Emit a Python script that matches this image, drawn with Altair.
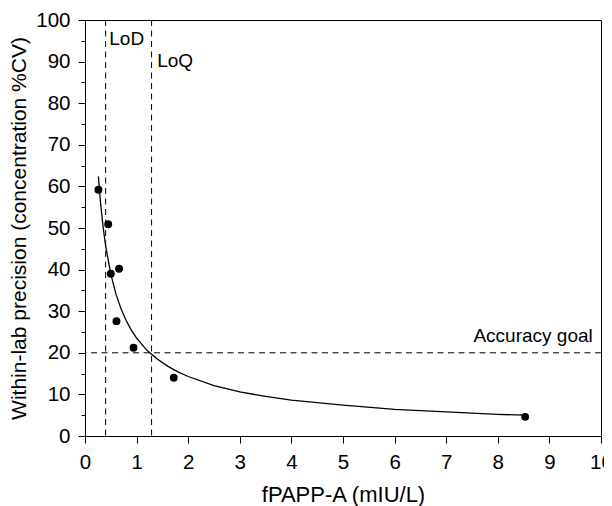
import altair as alt
import pandas as pd

# Measured points
conc = [0.26, 0.45, 0.50, 0.66, 0.61, 0.94, 1.72, 8.53]
cv = [59.2, 50.9, 39.0, 40.2, 27.6, 21.2, 14.0, 4.6]

# Fitted curve
curve_x = [0.26, 0.3, 0.35, 0.4, 0.5, 0.6, 0.7, 0.8, 0.9, 1.0, 1.2, 1.4, 1.6, 1.8,
           2.0, 2.5, 3.0, 3.5, 4.0, 5.0, 6.0, 7.0, 8.0, 8.53]
curve_y = [62.4, 56.2, 50.3, 45.7, 38.9, 34.1, 30.5, 27.7, 25.4, 23.55, 20.6, 18.5,
           16.8, 15.4, 14.3, 12.1, 10.6, 9.5, 8.6, 7.4, 6.4, 5.8, 5.2, 5.0]

lod = 0.40
loq = 1.29
goal = 20

labels = ["LoD", "LoQ", "Accuracy goal"]
label_x = [0.47, 1.40, 9.84]
label_y = [94.0, 88.8, 22.5]
label_align = ["left", "left", "right"]

x_ticks = [i * 0.5 for i in range(21)]
y_ticks = [i * 5 for i in range(21)]

FONT = "Liberation Sans"
LFS = 20.5
XTFS = 22
YTFS = 21
AFS = 19

pts = pd.DataFrame({"x": conc, "y": cv})
crv = pd.DataFrame({"x": curve_x, "y": curve_y})
vlines = pd.DataFrame({"x": [lod, loq]})
hline = pd.DataFrame({"y": [goal]})
lab = pd.DataFrame({"t": labels, "x": label_x, "y": label_y, "a": label_align})

xscale = alt.Scale(domain=[0, 10], nice=False, zero=False)
yscale = alt.Scale(domain=[0, 100], nice=False, zero=False)

common = dict(grid=False, domainColor="black", tickColor="black", labelColor="black",
              titleColor="black", labelFont=FONT, titleFont=FONT, labelFontSize=LFS,
              titleFontWeight="normal", labelFlush=False,
              labelOverlap=False, format="d")

xaxis = alt.Axis(values=x_ticks, title="fPAPP-A (mIU/L)", titleFontSize=XTFS,
                 tickSize={"condition": {"test": "datum.value % 1 === 0", "value": 7},
                           "value": 4},
                 labelExpr="datum.value % 1 === 0 ? datum.label : ''",
                 labelPadding=9, titlePadding=12, **common)
yaxis = alt.Axis(values=y_ticks, title="Within-lab precision (concentration %CV)",
                 titleFontSize=YTFS,
                 tickSize={"condition": {"test": "datum.value % 10 === 0", "value": 7},
                           "value": 4},
                 labelExpr="datum.value % 10 === 0 ? datum.label : ''",
                 labelPadding=8, titlePadding=6, **common)

X = alt.X("x:Q", scale=xscale, axis=xaxis)
Y = alt.Y("y:Q", scale=yscale, axis=yaxis)

points = alt.Chart(pts).mark_circle(size=62, color="black", opacity=1).encode(x=X, y=Y)

line = alt.Chart(crv).mark_line(color="black", strokeWidth=1.3).encode(x=X, y=Y)

vrules = alt.Chart(vlines).mark_rule(color="black", strokeWidth=1,
                                     strokeDash=[6, 4.5]).encode(x=X)
hrule = alt.Chart(hline).mark_rule(color="black", strokeWidth=1,
                                   strokeDash=[6, 4.5]).encode(y=Y)

texts = [
    alt.Chart(lab[lab["a"] == a]).mark_text(align=a, baseline="alphabetic",
                                            font=FONT, fontSize=AFS, color="black").encode(
        x=X, y=Y, text="t:N")
    for a in ["left", "right"]
]

chart = alt.layer(points, line, vrules, hrule, *texts).properties(
    width=516, height=416,
    padding={"left": 77, "top": 12, "right": 3, "bottom": 72},
    autosize=alt.AutoSizeParams(type="none"),
).configure_view(stroke="black", strokeWidth=1)

chart.save("out.html", embed_options={"renderer": "svg", "actions": False})
